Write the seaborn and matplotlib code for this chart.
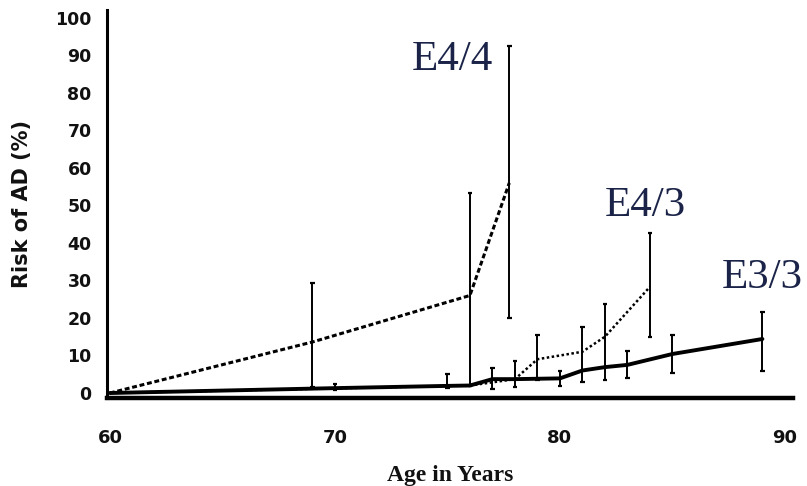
import matplotlib
matplotlib.use("Agg")
import matplotlib.pyplot as plt
import seaborn as sns
import pandas as pd

# ---- data ----
e44_age = [60, 69, 76, 77.75]
e44_risk = [0, 13.6, 26, 56]
e44_bar_age = [69, 76, 77.75]
e44_bar_lo = [1.5, 2.0, 20.0]
e44_bar_hi = [29.3, 53.3, 92.5]

e43_age = [60, 76, 78, 79, 81, 82, 84]
e43_risk = [0, 2.0, 3.7, 9.0, 11.0, 15.0, 28.3]
e43_bar_age = [78, 79, 81, 82, 84]
e43_bar_lo = [1.6, 3.5, 3.0, 3.5, 15.0]
e43_bar_hi = [8.5, 15.5, 17.6, 23.7, 42.7]

e33_age = [60, 70, 75, 76, 77, 78, 80, 81, 82, 83, 85, 89]
e33_risk = [0, 1.3, 1.9, 2.0, 3.7, 3.7, 3.9, 6.0, 6.9, 7.5, 10.4, 14.4]
e33_bar_age = [70, 75, 77, 80, 83, 85, 89]
e33_bar_lo = [0.8, 1.3, 1.0, 2.0, 4.0, 5.3, 6.0]
e33_bar_hi = [2.5, 5.0, 6.7, 6.0, 11.2, 15.5, 21.6]

x_ticks = [60, 70, 80, 90]
y_ticks = list(range(0, 101, 10))
labels = ["E4/4", "E4/3", "E3/3"]
label_pos = [(75.2, 88.8), (83.8, 49.9), (89.0, 30.7)]

sns.set_theme(style="white")
plt.rcParams["font.family"] = ["DejaVu Sans"]

fig = plt.figure(figsize=(8.07, 4.86), dpi=100)
ax = fig.add_axes([107 / 807, 1 - 398 / 486, (793 - 107) / 807, (398 - 10) / 486])

df44 = pd.DataFrame({"age": e44_age, "risk": e44_risk})
df43 = pd.DataFrame({"age": e43_age, "risk": e43_risk})
df33 = pd.DataFrame({"age": e33_age, "risk": e33_risk})

sns.lineplot(data=df33, x="age", y="risk", ax=ax, color="black", lw=2.8,
             estimator=None, sort=False)
sns.lineplot(data=df43, x="age", y="risk", ax=ax, color="black", lw=1.8,
             estimator=None, sort=False, linestyle=(0, (1.0, 1.0)))
sns.lineplot(data=df44, x="age", y="risk", ax=ax, color="black", lw=2.2,
             estimator=None, sort=False, linestyle=(0, (1.6, 0.9)))

for xs, lo, hi in [(e44_bar_age, e44_bar_lo, e44_bar_hi),
                   (e43_bar_age, e43_bar_lo, e43_bar_hi),
                   (e33_bar_age, e33_bar_lo, e33_bar_hi)]:
    ax.vlines(xs, lo, hi, color="black", lw=1.4)
    ax.hlines(lo, [x - 0.1 for x in xs], [x + 0.1 for x in xs], color="black", lw=1.6)
    ax.hlines(hi, [x - 0.1 for x in xs], [x + 0.1 for x in xs], color="black", lw=1.6)

for txt, (tx, ty) in zip(labels, label_pos):
    ax.text(tx, ty, txt, ha="center", va="center", fontsize=31,
            family="Liberation Serif", color="#1b2448", clip_on=False)

ax.set_xlim(59.87, 90.36)
ax.set_ylim(-1.33, 102.1)
ax.set_xticks(x_ticks)
ax.set_yticks(y_ticks)
ax.tick_params(axis="x", length=0, pad=22, labelsize=13)
ax.tick_params(axis="y", length=0, pad=11, labelsize=12.5)
for lab in ax.get_xticklabels() + ax.get_yticklabels():
    lab.set_fontweight("bold")
    lab.set_color("#111111")

ax.set_xlabel("Age in Years", family="Liberation Serif", fontsize=17,
              fontweight="bold", labelpad=13, color="#111111")
ax.set_ylabel("Risk of AD (%)", fontsize=15, fontweight="bold",
              labelpad=17, color="#111111")

for s in ["top", "right"]:
    ax.spines[s].set_visible(False)
ax.spines["left"].set_linewidth(2.2)
ax.spines["left"].set_color("black")
ax.spines["bottom"].set_linewidth(3.2)
ax.spines["bottom"].set_color("black")

fig.savefig("out.png", dpi=100, facecolor="white")
